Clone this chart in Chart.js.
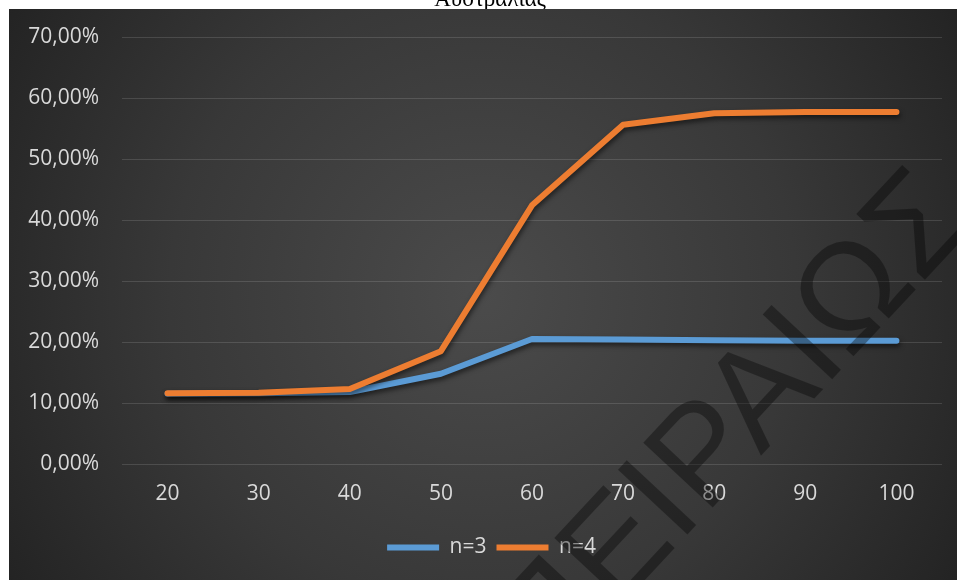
<!DOCTYPE html>
<html lang="el">
<head>
<meta charset="utf-8">
<title>Αυστραλίας</title>
<script src="https://cdn.jsdelivr.net/npm/chart.js@4/dist/chart.umd.min.js"></script>
<style>
  html, body { margin: 0; padding: 0; background: #fff; }
  #wrap { width: 957px; height: 580px; }
</style>
</head>
<body>
<div id="wrap"><canvas id="chart" width="957" height="580"></canvas></div>
<script>
// data
const categories = ['20', '30', '40', '50', '60', '70', '80', '90', '100'];
const seriesN3 = [11.5, 11.6, 11.8, 14.8, 20.5, 20.4, 20.3, 20.2, 20.2];
const seriesN4 = [11.6, 11.7, 12.3, 18.5, 42.4, 55.6, 57.5, 57.7, 57.7];
const yTicks = [0, 10, 20, 30, 40, 50, 60, 70];
const seriesNames = ['n=3', 'n=4'];
const titleText = 'Αυστραλίας';
const watermarkText = 'ΠΕΙΡΑΙΩΣ';

const FONT = "'Open Sans', 'Noto Sans', sans-serif";
const LABEL_COLOR = '#d9d9d9';

// white page, clipped title and the dark gradient panel
const backgroundPlugin = {
    id: 'panelBackground',
    beforeDraw(chart) {
        const ctx = chart.ctx;
        const w = chart.width, h = chart.height;
        ctx.save();
        ctx.fillStyle = '#ffffff';
        ctx.fillRect(0, 0, w, h);

        ctx.fillStyle = '#000000';
        ctx.font = "23px 'Liberation Serif', 'DejaVu Serif', serif";
        ctx.textAlign = 'center';
        ctx.textBaseline = 'alphabetic';
        ctx.fillText(titleText, 490, 6);

        const grad = ctx.createRadialGradient(483, 295, 0, 483, 295, 570);
        grad.addColorStop(0, '#4b4b4b');
        grad.addColorStop(0.55, '#383838');
        grad.addColorStop(1, '#222222');
        ctx.fillStyle = grad;
        ctx.fillRect(9, 9, w - 9, h - 9);
        ctx.restore();
    }
};

// soft drop shadow under the lines
const shadowPlugin = {
    id: 'lineShadow',
    beforeDatasetDraw(chart) {
        const ctx = chart.ctx;
        ctx.save();
        ctx.shadowColor = 'rgba(0, 0, 0, 0.55)';
        ctx.shadowBlur = 5;
        ctx.shadowOffsetX = 1;
        ctx.shadowOffsetY = 3;
    },
    afterDatasetDraw(chart) {
        chart.ctx.restore();
    }
};

// move legend a little right of the page center
const legendShiftPlugin = {
    id: 'legendShift',
    afterLayout(chart) {
        if (chart.legend) {
            chart.legend.left += 16;
            chart.legend.right += 16;
        }
    }
};

// diagonal watermark over the whole panel
const watermarkPlugin = {
    id: 'watermark',
    afterDraw(chart) {
        const ctx = chart.ctx;
        ctx.save();
        ctx.beginPath();
        ctx.rect(9, 9, chart.width - 9, chart.height - 9);
        ctx.clip();
        ctx.translate(548, 684);
        ctx.rotate(-47 * Math.PI / 180);
        ctx.font = "138px 'Liberation Sans', Arial, sans-serif";
        ctx.textAlign = 'left';
        ctx.textBaseline = 'alphabetic';
        ctx.fillStyle = 'rgba(0, 0, 0, 0.36)';
        ctx.fillText(watermarkText, 0, 0);
        ctx.restore();
    }
};

const ctx = document.getElementById('chart').getContext('2d');

new Chart(ctx, {
    type: 'line',
    data: {
        labels: categories,
        datasets: [
            {
                label: seriesNames[0],
                data: seriesN3,
                borderColor: '#5b9bd5',
                backgroundColor: '#5b9bd5',
                borderWidth: 6,
                borderCapStyle: 'round',
                borderJoinStyle: 'round',
                pointRadius: 0,
                tension: 0,
                order: 1
            },
            {
                label: seriesNames[1],
                data: seriesN4,
                borderColor: '#ed7d31',
                backgroundColor: '#ed7d31',
                borderWidth: 6,
                borderCapStyle: 'round',
                borderJoinStyle: 'round',
                pointRadius: 0,
                tension: 0,
                order: 0
            }
        ]
    },
    options: {
        responsive: false,
        animation: false,
        devicePixelRatio: 1,
        layout: {
            padding: { left: 9, right: 15, top: 37, bottom: 12 }
        },
        plugins: {
            title: { display: false },
            tooltip: { enabled: false },
            legend: {
                display: true,
                position: 'bottom',
                labels: {
                    usePointStyle: true,
                    pointStyle: 'line',
                    pointStyleWidth: 52,
                    boxHeight: 6,
                    padding: 10,
                    color: LABEL_COLOR,
                    font: { family: FONT, size: 21 },
                    sort: (a, b) => a.datasetIndex - b.datasetIndex
                }
            }
        },
        scales: {
            x: {
                offset: true,
                grid: { display: false, drawTicks: false },
                border: { display: false },
                ticks: {
                    color: LABEL_COLOR,
                    padding: 17,
                    maxRotation: 0,
                    font: { family: FONT, size: 21 }
                },
                afterFit(scale) {
                    scale.height = 63;
                }
            },
            y: {
                min: 0,
                max: 70,
                grid: {
                    color: 'rgba(255, 255, 255, 0.13)',
                    lineWidth: 1,
                    drawTicks: false
                },
                border: { display: false },
                ticks: {
                    color: LABEL_COLOR,
                    padding: 23,
                    font: { family: FONT, size: 21 },
                    callback: v => v.toFixed(2).replace('.', ',') + '%'
                },
                afterBuildTicks(scale) {
                    scale.ticks = yTicks.map(v => ({ value: v }));
                },
                afterFit(scale) {
                    scale.width = 113;
                }
            }
        }
    },
    plugins: [backgroundPlugin, shadowPlugin, legendShiftPlugin, watermarkPlugin]
});
</script>
</body>
</html>
